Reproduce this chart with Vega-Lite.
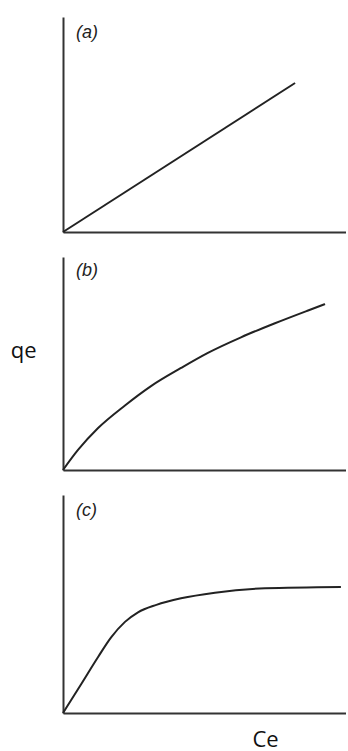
{
  "$schema": "https://vega.github.io/schema/vega-lite/v6.json",
  "autosize": "pad",
  "padding": {"left": 10, "top": 17, "right": 0, "bottom": 0},
  "background": "white",
  "config": {
    "view": {"stroke": null},
    "axis": {"domainColor": "#333", "domainWidth": 2, "ticks": false, "labels": false, "grid": false},
    "line": {"color": "#222", "strokeWidth": 2, "interpolate": "monotone"},
    "title": {"anchor": "start", "frame": "group", "orient": "top", "offset": 0, "baseline": "top", "dx": 13, "font": "Liberation Sans", "fontSize": 18, "fontStyle": "italic", "fontWeight": "normal", "color": "#222"}
  },
  "datasets": {
    "a": [
      {"Ce": 0, "qe": 0},
      {"Ce": 82.0, "qe": 69.3}
    ],
    "b": [
      {"Ce": 0, "qe": 0},
      {"Ce": 5.3, "qe": 9.4},
      {"Ce": 12.4, "qe": 19.7},
      {"Ce": 21.9, "qe": 30.3},
      {"Ce": 31.1, "qe": 39.4},
      {"Ce": 41.7, "qe": 47.9},
      {"Ce": 51.2, "qe": 55.0},
      {"Ce": 62.9, "qe": 62.3},
      {"Ce": 74.9, "qe": 68.9},
      {"Ce": 86.6, "qe": 74.9},
      {"Ce": 92.6, "qe": 77.9}
    ],
    "c": [
      {"Ce": 0, "qe": 0},
      {"Ce": 6.4, "qe": 13.2},
      {"Ce": 12.4, "qe": 25.7},
      {"Ce": 17.0, "qe": 34.7},
      {"Ce": 21.9, "qe": 41.8},
      {"Ce": 26.5, "qe": 46.2},
      {"Ce": 33.0, "qe": 49.6},
      {"Ce": 41.7, "qe": 52.6},
      {"Ce": 53.7, "qe": 55.2},
      {"Ce": 71.4, "qe": 57.2},
      {"Ce": 98.2, "qe": 57.8}
    ]
  },
  "bounds": "flush",
  "spacing": 25,
  "vconcat": [
    {
      "width": 283,
      "height": 215,
      "data": {"name": "a"},
      "title": {"text": "(a)", "dy": 29},
      "mark": {"type": "line"},
      "encoding": {
        "x": {"field": "Ce", "type": "quantitative", "scale": {"domain": [0, 100], "nice": false}, "axis": {"title": null}},
        "y": {"field": "qe", "type": "quantitative", "scale": {"domain": [0, 100], "nice": false}, "axis": {"title": null}}
      }
    },
    {
      "width": 283,
      "height": 213,
      "data": {"name": "b"},
      "title": {"text": "(b)", "dy": 27},
      "mark": {"type": "line"},
      "encoding": {
        "x": {"field": "Ce", "type": "quantitative", "scale": {"domain": [0, 100], "nice": false}, "axis": {"title": null}},
        "y": {"field": "qe", "type": "quantitative", "scale": {"domain": [0, 100], "nice": false},
          "axis": {"title": "qe", "titleAngle": 0, "titleAlign": "right", "titleBaseline": "alphabetic", "titleX": -27, "titleY": 100, "titleFont": "Open Sans", "titleFontSize": 22, "titleFontWeight": "normal", "titleColor": "#111"}}
      }
    },
    {
      "width": 283,
      "height": 218,
      "data": {"name": "c"},
      "title": {"text": "(c)", "dy": 29},
      "mark": {"type": "line"},
      "encoding": {
        "x": {"field": "Ce", "type": "quantitative", "scale": {"domain": [0, 100], "nice": false},
          "axis": {"title": "Ce", "titleAlign": "center", "titleBaseline": "alphabetic", "titleX": 202, "titleY": 33, "titleFont": "Open Sans", "titleFontSize": 22, "titleFontWeight": "normal", "titleColor": "#111"}},
        "y": {"field": "qe", "type": "quantitative", "scale": {"domain": [0, 100], "nice": false}, "axis": {"title": null}}
      }
    }
  ]
}
